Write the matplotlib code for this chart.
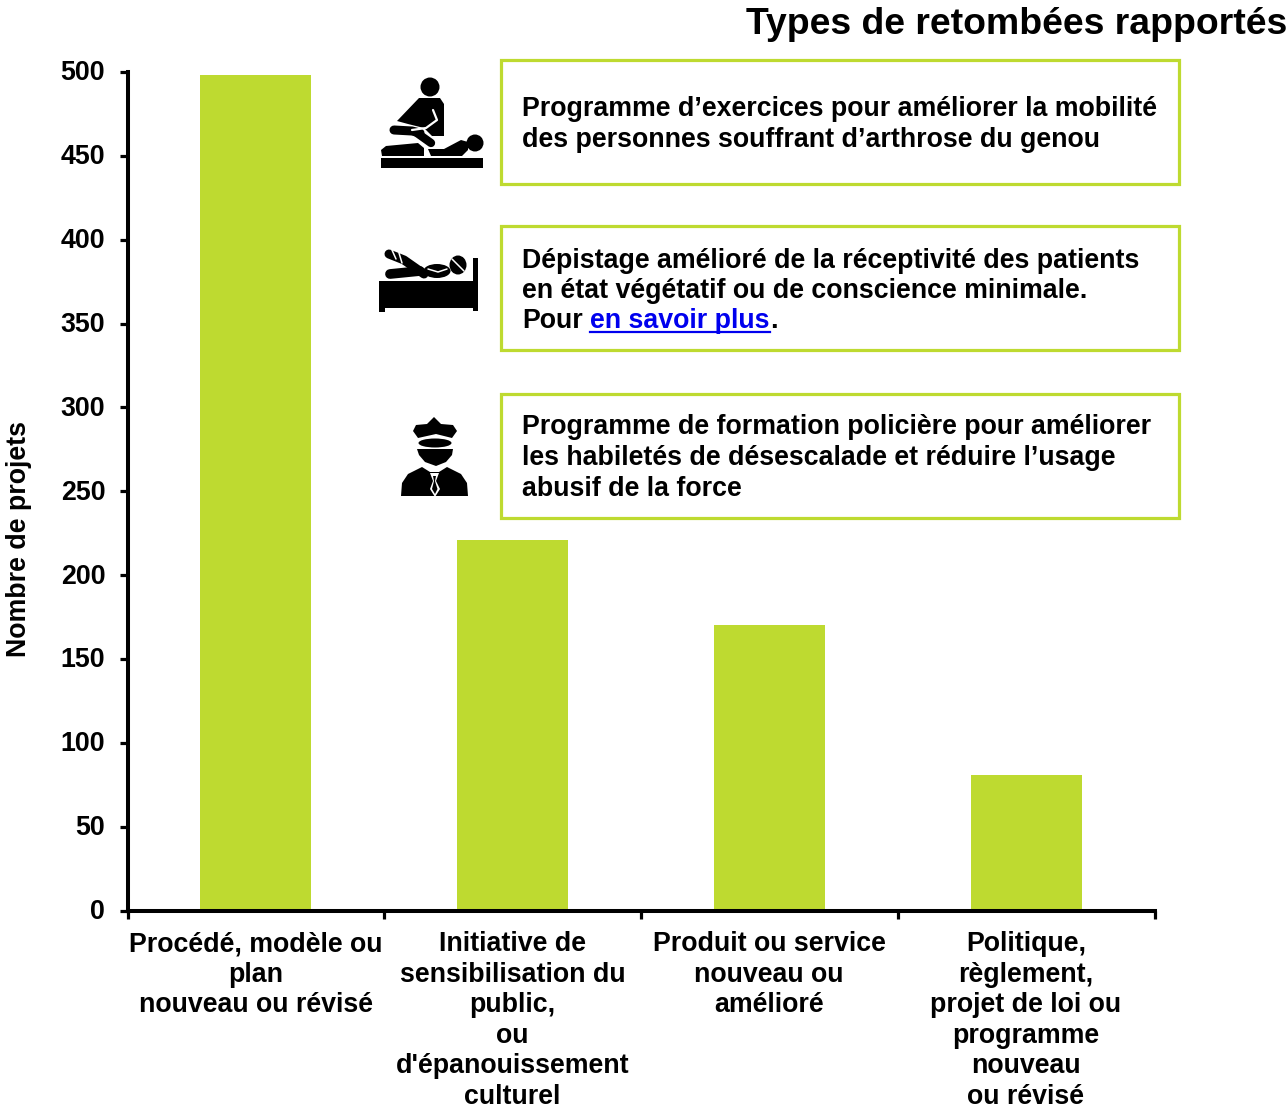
import matplotlib
matplotlib.use("Agg")
import matplotlib.pyplot as plt
from matplotlib.patches import Rectangle, Circle, Polygon, Ellipse
from matplotlib.transforms import ScaledTranslation

categories = ["Procédé, modèle ou\nplan\nnouveau ou révisé",
              "Initiative de\nsensibilisation du\npublic,\nou\nd'épanouissement\nculturel",
              "Produit ou service\nnouveau ou\namélioré",
              "Politique,\nrèglement,\nprojet de loi ou\nprogramme\nnouveau\nou révisé"]
values = [498, 221, 170, 81]
yticks = [0, 50, 100, 150, 200, 250, 300, 350, 400, 450, 500]
title = "Types de retombées rapportés"
ylabel = "Nombre de projets"
box1 = ["Programme d’exercices pour améliorer la mobilité", "des personnes souffrant d’arthrose du genou"]
box2 = ["Dépistage amélioré de la réceptivité des patients", "en état végétatif ou de conscience minimale."]
box3 = ["Programme de formation policière pour améliorer", "les habiletés de désescalade et réduire l’usage", "abusif de la force"]

GREEN = "#BEDA30"
W, H = 1288, 1108
plt.rcParams['font.family'] = ['Liberation Sans', 'DejaVu Sans']
plt.rcParams['font.weight'] = 'bold'
FS = 19.3
fig = plt.figure(figsize=(W/100, H/100), dpi=100)
L, R, T, B = 127.5, 1155, 72, 910.5
ax = fig.add_axes([L/W, 1-B/H, (R-L)/W, (B-T)/H])
ax.bar(range(4), values, width=0.432, color=GREEN, zorder=2)
ax.set_xlim(-0.5, 3.5)
ax.set_ylim(0, 500)
ax.set_yticks(yticks)
ax.set_yticklabels([str(v) for v in yticks], fontsize=FS, fontweight='bold')
ax.set_xticks([-0.5, 0.5, 1.5, 2.5, 3.5])
ax.set_xticklabels([])
ax.tick_params(axis='y', width=2.3, length=6, direction='out', pad=10)
ax.tick_params(axis='x', width=2.3, length=6, direction='out')
shift = ScaledTranslation(0, 1.5/100, fig.dpi_scale_trans)
for lab in ax.get_yticklabels():
    lab.set_transform(lab.get_transform() + shift)
for s in ('top', 'right'):
    ax.spines[s].set_visible(False)
for s in ('left', 'bottom'):
    ax.spines[s].set_linewidth(2.9)
    ax.spines[s].set_zorder(5)

ov = fig.add_axes([0, 0, 1, 1], zorder=3)
ov.set_xlim(0, W); ov.set_ylim(H, 0); ov.axis('off'); ov.patch.set_alpha(0)

ov.text(19.5, 539, ylabel, rotation=90, ha='center', va='center', fontsize=FS, fontweight='bold')
ov.text(1287, 24.5, title, ha='right', va='center', fontsize=26.9, fontweight='bold')

LS = 30.6
for i, cat in enumerate(categories):
    cx = 255.8 + i*256.7
    for j, line in enumerate(cat.split("\n")):
        ov.text(cx, 944 + j*LS, line, ha='center', va='center', fontsize=FS, fontweight='bold')

for y0, y1 in [(60, 184), (226, 350), (394, 518)]:
    ov.add_patch(Rectangle((501, y0), 678, y1-y0, fc='white', ec=GREEN, lw=2.3))

def lines(ls, y0):
    for k, t in enumerate(ls):
        ov.text(522, y0 + k*LS, t, ha='left', va='center', fontsize=FS, fontweight='bold')
lines(box1, 109.5)
lines(box2, 260.5)
lines(box3, 427.5)
ov.text(522, 321.5, "Pour", ha='left', va='center', fontsize=FS, fontweight='bold')
ov.text(590, 321.5, "en savoir plus", ha='left', va='center', fontsize=FS, fontweight='bold', color='#0000EE')
ov.plot([590, 770], [332, 332], color='#0000EE', lw=1.6)
ov.text(770, 321.5, ".", ha='left', va='center', fontsize=FS, fontweight='bold')

K = 'black'
def poly(pts, fc=K, z=4):
    ov.add_patch(Polygon(pts, closed=True, fc=fc, ec='none', zorder=z))
def stroke(xs, ys, lw, c=K, z=4):
    ov.plot(xs, ys, color=c, lw=lw, solid_capstyle='round', solid_joinstyle='round', zorder=z)

# massage icon
ov.add_patch(Circle((430, 87), 9.5, fc=K, ec='none', zorder=4))
poly([(419, 98), (440, 98), (444, 104), (444, 136), (432, 136), (424, 128), (408, 124), (397, 121)])
stroke([394, 412, 420], [130, 131, 133], 6.5)
stroke([417, 431], [133, 143], 6)
stroke([433, 437, 426, 412], [110, 120, 128, 130], 1.6, 'white', 5)
poly([(381, 150), (386, 146), (418, 143), (424, 148), (424, 156), (382, 156)])
poly([(428, 149), (444, 149), (461, 140), (468, 142), (468, 150), (462, 156), (431, 156)])
ov.add_patch(Circle((475, 143), 8.5, fc=K, ec='none', zorder=4))
ov.add_patch(Rectangle((381, 158), 102, 9.5, fc=K, ec='none', zorder=4))

# patient icon
poly([(379, 281), (473, 281), (473, 258), (478, 258), (478, 311), (473, 311), (473, 308), (385, 308), (385, 312), (379, 312)])
ov.add_patch(Ellipse((458, 265), 17, 19, fc=K, ec='none', zorder=4))
stroke([389, 404, 424], [254, 260, 274], 6.5)
stroke([390, 420], [274, 271], 7)
ov.add_patch(Ellipse((437, 271), 27, 14, fc=K, ec='none', zorder=4))
stroke([392, 396], [250, 259], 1.1, 'white', 5)
stroke([399, 402], [253, 263], 1.1, 'white', 5)
stroke([428, 438, 447], [269, 272, 269], 1.1, 'white', 5)
stroke([452, 464], [259, 271], 1.1, 'white', 5)

# officer icon
poly([(413, 431), (416, 425), (427, 424), (434, 417), (441, 424), (453, 425), (457, 431), (452, 438), (436, 434), (418, 438)])
ov.add_patch(Ellipse((435, 443), 33, 9, fc=K, ec='none', zorder=4))
poly([(417, 449), (453, 449), (452, 455), (446, 462), (436, 466), (425, 462), (419, 455)])
poly([(401, 496), (402, 483), (408, 474), (422, 467), (430, 472), (439, 472), (447, 467), (461, 474), (467, 483), (468, 496)])
poly([(430, 473), (439, 473), (436, 481), (440, 489), (435, 497), (430, 489), (433, 481)], fc='white', z=5)
poly([(433, 476), (436, 476), (435, 481), (437.5, 489), (435, 494), (432, 489), (434, 481)], z=6)

fig.savefig("out.png", dpi=100)
